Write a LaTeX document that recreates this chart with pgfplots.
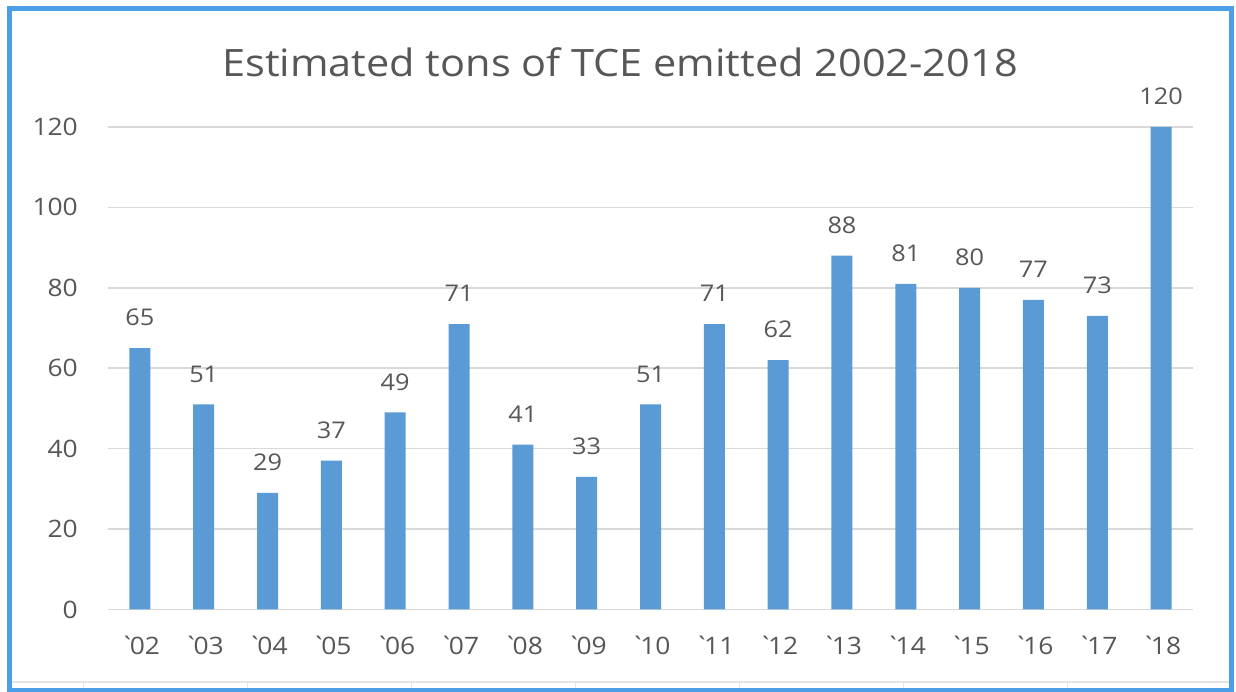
\documentclass[border=0pt]{standalone}
\usepackage{pgfplots}
\pgfplotsset{compat=1.18}
\usepackage{fontspec}
\setmainfont[FakeStretch=1.1]{Open Sans}
% no TeX ligatures here, so ` stays a plain backtick
\newfontfamily\plainfont[FakeStretch=1.1]{Open Sans}
\newcommand\yr[1]{`\kern-0.22em#1}
\definecolor{barblue}{HTML}{5B9BD5}
\definecolor{txtgray}{HTML}{575757}
\definecolor{gridgray}{HTML}{D9D9D9}
\definecolor{frameblue}{HTML}{4A9FE6}

\begin{document}
\begin{tikzpicture}[x=1pt,y=1pt]
\useasboundingbox (0,0) rectangle (1236,692);
\fill[white] (0,0) rectangle (1236,692);
% faint sheet cell lines at the bottom
\draw[gridgray!70, line width=1.2pt] (11,10) -- (1229,10);
\foreach \cx in {83,247,411,575,739,903,1067}
  \draw[gridgray!70, line width=1pt] (\cx,10) -- (\cx,4);
% blue frame
\draw[frameblue, line width=5pt] (9,1.5) rectangle (1231,683.5);

\node[font=\fontsize{37.7}{42}\selectfont, text=txtgray, anchor=base] at (620,615)
  {Estimated tons of TCE emitted 2002-2018};

\begin{axis}[
    at={(108pt,82.5pt)}, anchor=south west,
    scale only axis, width=1085pt, height=482.5pt,
    xmin=-0.5, xmax=16.5, ymin=0, ymax=120,
    ybar, bar width=21pt, bar shift=0pt,
    axis line style={draw=none},
    ymajorgrids, grid style={gridgray, line width=1.5pt},
    ytick={0,20,...,120},
    xtick={0,...,16},
    xticklabels={\yr{02},\yr{03},\yr{04},\yr{05},\yr{06},\yr{07},\yr{08},\yr{09},\yr{10},\yr{11},\yr{12},\yr{13},\yr{14},\yr{15},\yr{16},\yr{17},\yr{18}},
    major tick length=0, tick style={draw=none},
    ticklabel style={font=\plainfont\fontsize{24}{28}\selectfont, text=txtgray},
    yticklabel style={anchor=east, inner sep=0pt, xshift=-30pt},
    xticklabel style={anchor=north, inner sep=0pt, yshift=-26pt},
    /pgf/number format/assume math mode=true,
    nodes near coords,
    every node near coord/.append style={font=\fontsize{23}{26}\selectfont, text=txtgray, anchor=south, inner sep=0pt, yshift=22pt},
    clip=false,
]
\addplot[fill=barblue, draw=none] coordinates {
  (0,65) (1,51) (2,29) (3,37) (4,49) (5,71) (6,41) (7,33) (8,51)
  (9,71) (10,62) (11,88) (12,81) (13,80) (14,77) (15,73) (16,120)
};
\end{axis}
\end{tikzpicture}
\end{document}
